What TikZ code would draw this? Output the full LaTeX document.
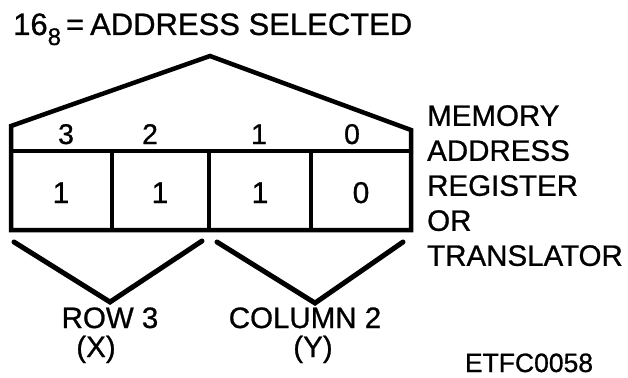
\documentclass[tikz,border=0pt]{standalone}
\usepackage{fontspec}
\setmainfont{Liberation Sans}[FakeBold=0.8]
\tikzset{
  big/.style={font=\fontsize{29.5}{35}\selectfont, inner sep=0pt},
  bitno/.style={font=\fontsize{28.5}{30}\selectfont, inner sep=0pt, anchor=base},
  cellval/.style={font=\fontsize{30}{32}\selectfont, inner sep=0pt, anchor=base},
  heavy/.style={line width=4.5pt, line join=miter},
  chev/.style={line width=5pt, line cap=round, line join=miter}
}
\begin{document}
\begin{tikzpicture}[x=1pt,y=-1pt]
\useasboundingbox (0,0) rectangle (628,377);
% title
\node[font=\fontsize{31}{35}\selectfont, inner sep=0pt, anchor=base west] (title) at (13,35) {16\raisebox{-10pt}{\fontsize{24}{24}\selectfont 8}\hspace{5pt}=\hspace{6pt}ADDRESS SELECTED};
% register outline
\coordinate (bl) at (11,230);
\coordinate (tl) at (11,126);
\coordinate (peak) at (210,56);
\coordinate (tr) at (411,130);
\coordinate (br) at (411,230);
\draw[heavy] (bl) -- (tl) -- (peak) -- (tr) -- (br) -- cycle;
\draw[heavy] (11,151) -- (411,151);
\draw[line width=4pt] (112,151) -- (112,230);
\draw[line width=4pt] (209,151) -- (209,230);
\draw[line width=4pt] (311,151) -- (311,230);
% bit numbers
\node[bitno] (b3) at (66,144) {3};
\node[bitno] (b2) at (150,144) {2};
\node[bitno] (b1) at (259,144) {1};
\node[bitno] (b0) at (352,144) {0};
% cell values
\node[cellval] (c3) at (61,203) {1};
\node[cellval] (c2) at (160,203) {1};
\node[cellval] (c1) at (260,203) {1};
\node[cellval] (c0) at (361,203) {0};
% side label
\node[big, anchor=north west, align=left] (mar) at (427,105) {MEMORY\\ADDRESS\\REGISTER\\OR\\TRANSLATOR};
% chevrons
\coordinate (lA) at (14,242);
\coordinate (lV) at (110,302);
\coordinate (lB) at (202,241);
\coordinate (rA) at (217,242);
\coordinate (rV) at (315,303);
\coordinate (rB) at (403,242);
\draw[chev] (lA) -- (lV) -- (lB);
\draw[chev] (rA) -- (rV) -- (rB);
% bottom labels
\node[big, anchor=base] (row) at (110,328) {ROW 3};
\node[big, anchor=base] (rowx) at (96,357) {(X)};
\node[big, anchor=base] (col) at (305,328) {COLUMN 2};
\node[big, anchor=base] (coly) at (313,357) {(Y)};
\node[font=\fontsize{26.5}{28}\selectfont, inner sep=0pt, anchor=base] (id) at (529,372) {ETFC0058};
\end{tikzpicture}
\end{document}
